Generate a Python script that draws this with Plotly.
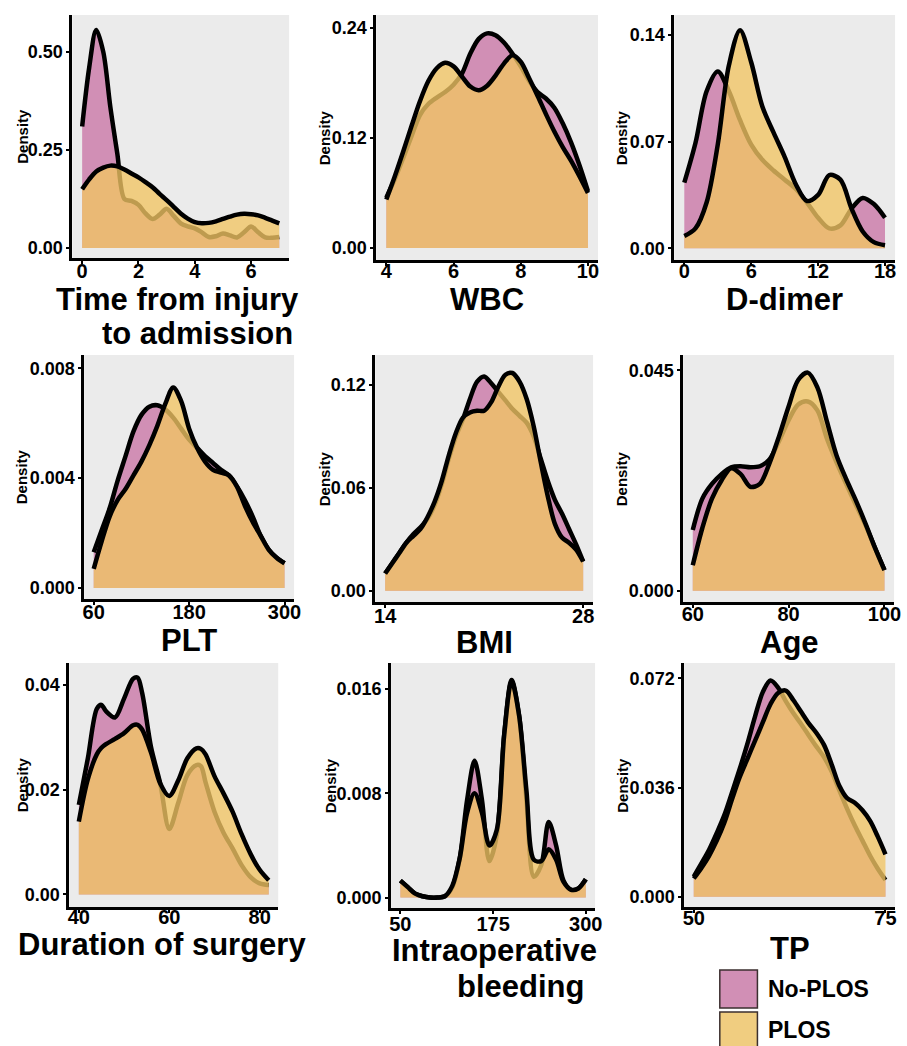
import plotly.graph_objects as go

W, H = 907, 1046

# ---------------- data ----------------
time_x = [0, 0.25, 0.5, 0.75, 1.0, 1.25, 1.5, 1.75, 2.0, 2.25, 2.5, 2.75, 3.0, 3.25, 3.5,
          3.75, 4.0, 4.25, 4.5, 4.75, 5.0, 5.25, 5.5, 5.75, 6.0, 6.25, 6.5, 6.75, 7.0]
time_noplos = [0.31, 0.46, 0.556, 0.50, 0.36, 0.24, 0.125, 0.12, 0.11, 0.088, 0.074, 0.085, 0.10, 0.082, 0.063,
               0.055, 0.05, 0.04, 0.028, 0.03, 0.037, 0.032, 0.027, 0.04, 0.055, 0.04, 0.027, 0.026, 0.028]
time_plos = [0.15, 0.175, 0.195, 0.205, 0.21, 0.208, 0.20, 0.19, 0.18, 0.168, 0.155, 0.138, 0.122, 0.105, 0.088,
             0.075, 0.066, 0.063, 0.064, 0.068, 0.074, 0.08, 0.085, 0.087, 0.086, 0.083, 0.077, 0.07, 0.063]

wbc_x = [4.0, 4.25, 4.5, 4.75, 5.0, 5.25, 5.5, 5.75, 6.0, 6.25, 6.5, 6.75, 7.0, 7.25, 7.5, 7.75,
         8.0, 8.25, 8.5, 8.75, 9.0, 9.25, 9.5, 9.75, 10.0]
wbc_noplos = [0.055, 0.075, 0.098, 0.122, 0.145, 0.157, 0.164, 0.17, 0.178, 0.19, 0.212, 0.228, 0.234, 0.232,
              0.224, 0.212, 0.198, 0.182, 0.17, 0.163, 0.153, 0.136, 0.115, 0.09, 0.062]
wbc_plos = [0.053, 0.078, 0.105, 0.133, 0.16, 0.182, 0.196, 0.202, 0.198, 0.187, 0.176, 0.172, 0.177, 0.188,
            0.201, 0.21, 0.203, 0.185, 0.166, 0.146, 0.127, 0.11, 0.095, 0.078, 0.06]

ddim_x = [0, 1, 2, 3, 4, 5, 6, 7, 8, 9, 10, 11, 12, 13, 14, 15, 16, 17, 18]
ddim_noplos = [0.043, 0.069, 0.103, 0.116, 0.103, 0.084, 0.068, 0.058, 0.051, 0.045, 0.039, 0.03, 0.02,
               0.013, 0.015, 0.026, 0.033, 0.029, 0.02]
ddim_plos = [0.008, 0.013, 0.03, 0.068, 0.12, 0.143, 0.122, 0.093, 0.076, 0.06, 0.042, 0.031, 0.035,
             0.048, 0.045, 0.026, 0.011, 0.004, 0.002]

plt_x = [60, 70, 80, 90, 100, 110, 120, 130, 140, 150, 160, 170, 180, 190, 200, 210, 220, 230, 240,
         250, 260, 270, 280, 290, 300]
plt_noplos = [0.0013, 0.0021, 0.0029, 0.0039, 0.0048, 0.0057, 0.0063, 0.0066, 0.00665, 0.0065, 0.0062,
              0.0058, 0.0054, 0.0051, 0.0048, 0.00455, 0.0043, 0.0041, 0.0037, 0.0032, 0.0026, 0.0019,
              0.0014, 0.0011, 0.0009]
plt_plos = [0.0007, 0.0017, 0.0026, 0.0032, 0.0036, 0.0041, 0.0046, 0.0052, 0.0059, 0.0067, 0.0073,
            0.0068, 0.0058, 0.0051, 0.0046, 0.0043, 0.0042, 0.0041, 0.0037, 0.003, 0.0024, 0.0019,
            0.0014, 0.0011, 0.0009]

bmi_x = [14, 14.5, 15, 15.5, 16, 16.5, 17, 17.5, 18, 18.5, 19, 19.5, 20, 20.5, 21, 21.5, 22, 22.5,
         23, 23.5, 24, 24.5, 25, 25.5, 26, 26.5, 27, 27.5, 28]
bmi_noplos = [0.010, 0.016, 0.022, 0.028, 0.033, 0.037, 0.042, 0.05, 0.062, 0.077, 0.09, 0.1, 0.112,
              0.122, 0.125, 0.121, 0.116, 0.111, 0.106, 0.102, 0.098, 0.09, 0.077, 0.064, 0.053, 0.045,
              0.036, 0.027, 0.017]
bmi_plos = [0.010, 0.016, 0.022, 0.028, 0.032, 0.036, 0.043, 0.052, 0.064, 0.079, 0.092, 0.101, 0.104,
            0.105, 0.105, 0.11, 0.119, 0.126, 0.127, 0.122, 0.112, 0.096, 0.075, 0.055, 0.039, 0.031,
            0.028, 0.024, 0.017]

age_x = [60, 62, 64, 66, 68, 70, 72, 74, 76, 78, 80, 82, 84, 86, 88, 90, 92, 94, 96, 98, 100]
age_noplos = [0.0124, 0.0188, 0.0218, 0.0238, 0.0252, 0.0254, 0.0252, 0.0254, 0.0268, 0.0305, 0.0348,
              0.038, 0.0386, 0.0368, 0.031, 0.0262, 0.0218, 0.0176, 0.0135, 0.0088, 0.0042]
age_plos = [0.0052, 0.0128, 0.0188, 0.0225, 0.025, 0.0238, 0.0212, 0.0218, 0.026, 0.0315, 0.0376,
            0.043, 0.0445, 0.0415, 0.0345, 0.0276, 0.0228, 0.0185, 0.0138, 0.0088, 0.0042]

dur_x = [40, 42, 44, 45, 46, 48, 50, 52, 53, 54, 56, 58, 60, 62, 64, 66, 67, 68, 70, 72, 74, 76, 78, 80, 82]
dur_noplos = [0.0171, 0.026, 0.0355, 0.0362, 0.035, 0.0338, 0.0374, 0.0412, 0.0414, 0.0385, 0.028, 0.0212,
              0.0125, 0.0175, 0.0228, 0.0247, 0.0245, 0.0215, 0.0158, 0.0118, 0.0088, 0.0056, 0.0033,
              0.0021, 0.0018]
dur_plos = [0.0139, 0.022, 0.0268, 0.028, 0.0287, 0.0297, 0.0308, 0.0323, 0.0324, 0.0315, 0.027, 0.0212,
            0.0188, 0.0218, 0.026, 0.0279, 0.0278, 0.0268, 0.0226, 0.0193, 0.0158, 0.0115, 0.0077,
            0.0047, 0.0027]

bleed_x = [50, 60, 70, 80, 90, 100, 110, 120, 130, 140, 150, 160, 170, 180, 190, 200, 210, 220, 230,
           240, 250, 260, 270, 280, 290, 300]
bleed_noplos = [0.0013, 0.0008, 0.0003, 0.0001, 0.0, 0.0, 0.0001, 0.0008, 0.003, 0.0075, 0.0105, 0.0075,
                0.0028, 0.0048, 0.0125, 0.0167, 0.014, 0.0075, 0.0016, 0.0025, 0.0058, 0.004, 0.0013,
                0.0006, 0.0007, 0.0014]
bleed_plos = [0.0013, 0.0008, 0.0003, 0.0001, 0.0, 0.0, 0.0001, 0.0009, 0.003, 0.0065, 0.008, 0.0065,
              0.004, 0.0052, 0.0125, 0.0166, 0.014, 0.0082, 0.0029, 0.0028, 0.0037, 0.0029, 0.0012,
              0.0006, 0.0007, 0.0014]

tp_x = [50, 51, 52, 53, 54, 55, 56, 57, 58, 59, 60, 61, 62, 63, 64, 65, 66, 67, 68, 69, 70, 71, 72, 73, 74, 75]
tp_noplos = [0.0066, 0.011, 0.0155, 0.021, 0.027, 0.0345, 0.0422, 0.0505, 0.0595, 0.0675, 0.0713, 0.069,
             0.0645, 0.0605, 0.057, 0.0532, 0.0495, 0.046, 0.0412, 0.035, 0.029, 0.0235, 0.0185, 0.0135,
             0.0092, 0.0055]
tp_plos = [0.006, 0.0095, 0.0135, 0.0185, 0.0245, 0.0322, 0.0395, 0.0455, 0.0515, 0.0575, 0.0635, 0.0672,
           0.068, 0.0648, 0.061, 0.0572, 0.054, 0.05, 0.0435, 0.0365, 0.0325, 0.031, 0.0285, 0.025,
           0.0198, 0.014]

groups = ["No-PLOS", "PLOS"]

panels = [
    dict(x=time_x, a=time_noplos, b=time_plos, title=["Time from injury", "to admission"],
         xt=[0, 2, 4, 6], xtt=["0", "2", "4", "6"], yt=[0, 0.25, 0.5], ytt=["0.00", "0.25", "0.50"]),
    dict(x=wbc_x, a=wbc_noplos, b=wbc_plos, title=["WBC"],
         xt=[4, 6, 8, 10], xtt=["4", "6", "8", "10"], yt=[0, 0.12, 0.24], ytt=["0.00", "0.12", "0.24"]),
    dict(x=ddim_x, a=ddim_noplos, b=ddim_plos, title=["D-dimer"],
         xt=[0, 6, 12, 18], xtt=["0", "6", "12", "18"], yt=[0, 0.07, 0.14], ytt=["0.00", "0.07", "0.14"]),
    dict(x=plt_x, a=plt_noplos, b=plt_plos, title=["PLT"],
         xt=[60, 180, 300], xtt=["60", "180", "300"], yt=[0, 0.004, 0.008], ytt=["0.000", "0.004", "0.008"]),
    dict(x=bmi_x, a=bmi_noplos, b=bmi_plos, title=["BMI"],
         xt=[14, 28], xtt=["14", "28"], yt=[0, 0.06, 0.12], ytt=["0.00", "0.06", "0.12"]),
    dict(x=age_x, a=age_noplos, b=age_plos, title=["Age"],
         xt=[60, 80, 100], xtt=["60", "80", "100"], yt=[0, 0.045], ytt=["0.000", "0.045"]),
    dict(x=dur_x, a=dur_noplos, b=dur_plos, title=["Duration of surgery"],
         xt=[40, 60, 80], xtt=["40", "60", "80"], yt=[0, 0.02, 0.04], ytt=["0.00", "0.02", "0.04"]),
    dict(x=bleed_x, a=bleed_noplos, b=bleed_plos, title=["Intraoperative", "bleeding"],
         xt=[50, 175, 300], xtt=["50", "175", "300"], yt=[0, 0.008, 0.016], ytt=["0.000", "0.008", "0.016"]),
    dict(x=tp_x, a=tp_noplos, b=tp_plos, title=["TP"],
         xt=[50, 75], xtt=["50", "75"], yt=[0, 0.036, 0.072], ytt=["0.000", "0.036", "0.072"]),
]

# ---------------- layout config (pixels) ----------------
boxes = [  # left, right, top, bottom (px)
    (71, 290, 15, 258), (378, 602, 15, 260), (679, 902, 15, 260),
    (83, 295, 355, 599), (377, 597, 355, 602), (688, 901, 355, 602),
    (68, 279, 663, 907), (393, 599, 663, 908), (689, 902, 663, 907),
]
yranges = [(-0.0255, 0.594), (-0.013, 0.254), (-0.0077, 0.153),
           (-0.0004, 0.00848), (-0.0066, 0.1375), (-0.0023, 0.0481),
           (-0.0024, 0.0442), (-0.0008, 0.018), (-0.0034, 0.0771)]
x_standoff = [-10, -12, -12, -10, -9, -11, -13, -7, -12]
dens_x = [20.5, 326, 626, 20.5, 326, 626, 20.5, 332, 626]
# title line anchors: (x, y, xanchor)
title_pos = [
    [(302, 299, "right"), (296, 333, "right")],
    [(490, 299, "center")],
    [(790, 299, "center")],
    [(189, 640, "center")],
    [(487, 642, "center")],
    [(795, 642, "center")],
    [(162, 944, "center")],
    [(603, 950, "right"), (590, 986, "right")],
    [(796, 948, "center")],
]

PINK = "rgb(209,143,181)"
YELLOW = "rgba(241,197,100,0.79)"
FONT = "Arial, Liberation Sans, sans-serif"

fig = go.Figure()
annotations = []
layout = {}

def px_x(v):
    return v / W

def px_y(v):
    return 1 - v / H

for i, p in enumerate(panels):
    n = "" if i == 0 else str(i + 1)
    xa, ya = "x" + n, "y" + n
    for vals, color, name in ((p["a"], PINK, groups[0]), (p["b"], YELLOW, groups[1])):
        fig.add_trace(go.Scatter(
            x=p["x"], y=vals, xaxis=xa, yaxis=ya, mode="lines", name=name,
            fill="tozeroy", fillcolor=color,
            line=dict(color="black", width=4.5, shape="spline", smoothing=0.9),
            showlegend=False, hoverinfo="skip"))
    l, r, t, b = boxes[i]
    xmin, xmax = min(p["x"]), max(p["x"])
    span = xmax - xmin
    layout["xaxis" + n] = dict(
        domain=[px_x(l), px_x(r)], anchor=ya, range=[xmin - 0.05 * span, xmax + 0.05 * span],
        tickmode="array", tickvals=p["xt"], ticktext=p["xtt"],
        showline=True, linecolor="black", linewidth=2.8, mirror=False,
        ticks="outside", ticklen=3, tickwidth=1.5, tickcolor="black",
        ticklabelstandoff=x_standoff[i],
        tickfont=dict(family=FONT, size=20, color="black", weight="bold"),
        showgrid=False, zeroline=False, fixedrange=True)
    layout["yaxis" + n] = dict(
        domain=[px_y(b), px_y(t)], anchor=xa, range=list(yranges[i]),
        tickmode="array", tickvals=p["yt"], ticktext=p["ytt"],
        showline=True, linecolor="black", linewidth=2.8, mirror=False,
        ticks="outside", ticklen=3, tickwidth=1.5, tickcolor="black",
        tickfont=dict(family=FONT, size=18, color="black", weight="bold"),
        showgrid=False, zeroline=False, fixedrange=True)
    # y title
    annotations.append(dict(
        text="Density", x=px_x(dens_x[i]), y=px_y((t + b) / 2), xref="paper", yref="paper",
        textangle=-90, showarrow=False, xanchor="center", yanchor="middle",
        font=dict(family=FONT, size=15, color="black", weight="bold")))
    # x title lines
    for line, (tx, ty, anc) in zip(p["title"], title_pos[i]):
        annotations.append(dict(
            text=line, x=px_x(tx), y=px_y(ty), xref="paper", yref="paper",
            showarrow=False, xanchor=anc, yanchor="middle",
            font=dict(family=FONT, size=31, color="black", weight="bold")))

# legend (drawn manually to match the large key boxes)
shapes = []
leg_rows = [(groups[0], PINK, 970, 1008, 989), (groups[1], "rgb(240,205,128)", 1012, 1050, 1030)]
for name, color, y0, y1, yc in leg_rows:
    shapes.append(dict(type="rect", xref="paper", yref="paper",
                       x0=px_x(725), x1=px_x(763), y0=px_y(y1), y1=px_y(y0),
                       fillcolor=color, line=dict(color="#3b2f2f", width=1.5)))
    annotations.append(dict(text=name, x=px_x(772), y=px_y(yc), xref="paper", yref="paper",
                            showarrow=False, xanchor="left", yanchor="middle",
                            font=dict(family=FONT, size=23, color="black", weight="bold")))

fig.update_layout(
    width=W, height=H, margin=dict(l=0, r=0, t=0, b=0),
    paper_bgcolor="white", plot_bgcolor="#EBEBEB",
    annotations=annotations, shapes=shapes, showlegend=False, **layout)

fig.write_html("out.html", config={"displayModeBar": False},
               post_script="document.body.style.margin='0px';document.body.style.overflow='hidden';")
